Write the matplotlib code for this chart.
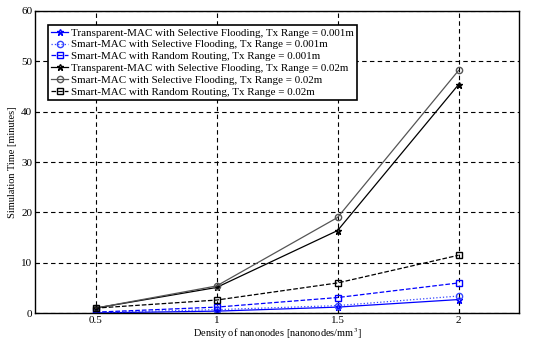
import matplotlib
matplotlib.use('Agg')
import matplotlib.pyplot as plt

plt.rcParams['font.family'] = ['Liberation Serif', 'DejaVu Serif']
plt.rcParams['mathtext.fontset'] = 'stix'

density = [0.5, 1.0, 1.5, 2.0]

labels = [
    'Transparent-MAC with Selective Flooding, Tx Range = 0.001m',
    'Smart-MAC with Selective Flooding, Tx Range = 0.001m',
    'Smart-MAC with Random Routing, Tx Range = 0.001m',
    'Transparent-MAC with Selective Flooding, Tx Range = 0.02m',
    'Smart-MAC with Selective Flooding, Tx Range = 0.02m',
    'Smart-MAC with Random Routing, Tx Range = 0.02m',
]

tmac_sf_001 = [0.05, 0.4, 1.2, 2.7]
smac_sf_001 = [0.1, 0.7, 1.5, 3.4]
smac_rr_001 = [0.2, 1.2, 3.1, 6.0]
tmac_sf_02 = [1.0, 5.1, 16.4, 45.4]
smac_sf_02 = [1.0, 5.4, 19.0, 48.2]
smac_rr_02 = [1.0, 2.6, 6.0, 11.5]

series = [tmac_sf_001, smac_sf_001, smac_rr_001, tmac_sf_02, smac_sf_02, smac_rr_02]
styles = [
    ('#0000ff', '-', '*'),
    ('#3344ff', ':', 'o'),
    ('#0000ff', '--', 's'),
    ('black', '-', '*'),
    ('#555555', '-', 'o'),
    ('black', '--', 's'),
]

fig = plt.figure(figsize=(5.47, 3.43), dpi=100)
ax = fig.add_axes([0.064, 0.087, 0.885, 0.881])

for y, lab, (c, ls, m) in zip(series, labels, styles):
    ax.plot(density, y, color=c, linestyle=ls, marker=m, markersize=4.5,
            markerfacecolor='none', markeredgecolor=c, linewidth=0.9, label=lab)

ax.set_xlim(0.25, 2.25)
ax.set_ylim(0, 60)
ax.set_xticks([0.5, 1, 1.5, 2])
ax.set_xticklabels(['0.5', '1', '1.5', '2'])
ax.set_yticks(range(0, 61, 10))
ax.tick_params(labelsize=8, direction='in', length=3, pad=2)
ax.grid(True, color='black', linestyle=(0, (4, 3)), linewidth=0.8)
for s in ax.spines.values():
    s.set_linewidth(1.0)

ax.set_xlabel('Density of nanonodes [nanonodes/mm$^3$]', fontsize=7.5, labelpad=1)
ax.set_ylabel('Simulation Time [minutes]', fontsize=7.5, labelpad=3)

leg = ax.legend(loc='upper left', bbox_to_anchor=(0.027, 0.955), fontsize=7.9,
                frameon=True, fancybox=False, handlelength=1.5,
                handletextpad=0.3, labelspacing=0.2, borderpad=0.3,
                borderaxespad=0.0)
leg.get_frame().set_edgecolor('black')
leg.get_frame().set_linewidth(1.2)
leg.get_frame().set_alpha(1.0)

fig.savefig('out.png', dpi=100)
